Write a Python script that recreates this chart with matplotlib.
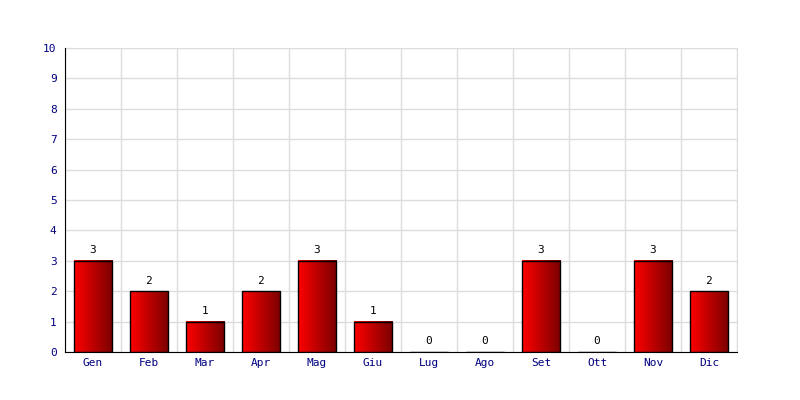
import numpy as np
import matplotlib
matplotlib.use("Agg")
import matplotlib.pyplot as plt
from matplotlib.colors import LinearSegmentedColormap

# monthly counts
months = ["Gen", "Feb", "Mar", "Apr", "Mag", "Giu", "Lug", "Ago", "Set", "Ott", "Nov", "Dic"]
counts = [3, 2, 1, 2, 3, 1, 0, 0, 3, 0, 3, 2]
yticks = list(range(0, 11))

plt.rcParams["font.family"] = ["DejaVu Sans Mono"]

fig = plt.figure(figsize=(8, 4), dpi=100)
ax = fig.add_axes([0.08125, 0.12, 0.84, 0.76])

x = np.arange(len(months))
bars = ax.bar(x, counts, width=0.68, facecolor="none", edgecolor="black",
              linewidth=1.0, zorder=3)

# horizontal gradient inside each bar
cmap = LinearSegmentedColormap.from_list("redgrad", ["#ff0000", "#7a0000"])
grad = np.linspace(0, 1, 256).reshape(1, -1)
for b in bars:
    h = b.get_height()
    if h <= 0:
        continue
    x0 = b.get_x()
    ax.imshow(grad, cmap=cmap, aspect="auto", zorder=2,
              extent=[x0, x0 + b.get_width(), 0, h], interpolation="bicubic")

for xi, v in zip(x, counts):
    ax.annotate(str(v), (xi, v), xytext=(0, 4), textcoords="offset points",
                ha="center", va="bottom", fontsize=8, color="black")

ax.set_xlim(-0.5, len(months) - 0.5)
ax.set_ylim(0, 10)
ax.set_xticks(x)
ax.set_xticklabels(months)
ax.set_yticks(yticks)
ax.set_xticks(np.arange(len(months) + 1) - 0.5, minor=True)
ax.tick_params(axis="both", which="both", length=0, labelsize=8, colors="#000080")
ax.tick_params(axis="x", pad=4)
ax.tick_params(axis="y", pad=6)

ax.grid(True, which="minor", axis="x", color="#dddddd", linewidth=1)
ax.grid(True, which="major", axis="y", color="#dddddd", linewidth=1)
ax.set_axisbelow(True)

for side in ["top", "right"]:
    ax.spines[side].set_color("#dddddd")
for side in ["left", "bottom"]:
    ax.spines[side].set_color("black")
    ax.spines[side].set_zorder(4)

fig.savefig("out.png", dpi=100)
